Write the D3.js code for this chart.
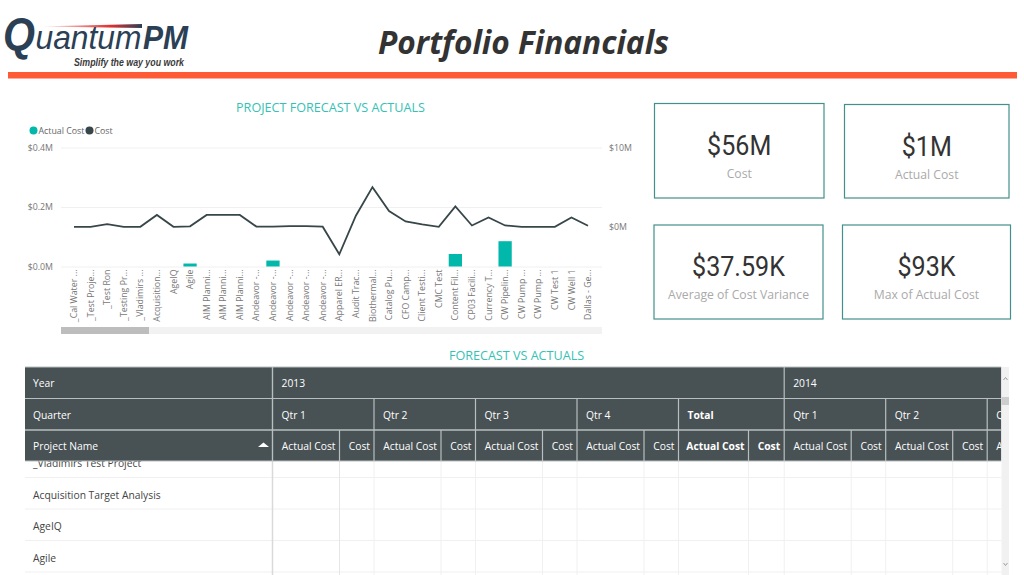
<!DOCTYPE html>
<html>
<head>
<meta charset="utf-8">
<script src="https://cdn.jsdelivr.net/npm/d3@7"></script>
<style>
	body { margin: 0; background: #fff; overflow: hidden; }
	text { font-family: 'Open Sans', 'Noto Sans', sans-serif; }
	.axis .domain { display: none; }
	.axis text { fill: #777; font-size: 8.8px; }
</style>
</head>
<body>
<svg id="page" width="1024" height="575"></svg>
<script>
const categories = ['_Cal Water ...', '_Test Proje...', '_Test Ron', '_Testing Pr...', '_Vladimirs ...', 'Acquisition...', 'AgeIQ', 'Agile', 'AIM Planni...', 'AIM Planni...', 'AIM Planni...', 'Andeavor -...', 'Andeavor -...', 'Andeavor -...', 'Andeavor -...', 'Andeavor -...', 'Apparel ER...', 'Audit Trac...', 'Biothermal...', 'Catalog Pu...', 'CFO Camp...', 'Client Testi...', 'CMC Test', 'Content Fil...', 'CP03 Facili...', 'Currency T...', 'CW Pipelin...', 'CW Pump ...', 'CW Pump ...', 'CW Test 1', 'CW Well 1', 'Dallas - Ge...']
const actualCost = [0, 0, 0, 0, 0, 0, 0, 0.01, 0, 0, 0, 0, 0.02, 0, 0, 0, 0, 0, 0, 0, 0, 0, 0, 0.042, 0, 0, 0.085, 0, 0, 0, 0, 0]
const cost = [0, 0, 0.34, 0, 0, 1.5, 0, 0.06, 1.5, 1.5, 1.5, 0.03, 0.03, 0.08, 0.08, 0.02, -3.46, 1.4, 5, 2, 0.68, 0.3, 0, 2.57, 0.17, 1.18, 0.17, 0, 0, 0, 1.18, 0.13]
const leftTicks = [0, 0.2, 0.4]
const rightTicks = [0, 10]

const cards = ['$56M', '$1M', '$37.59K', '$93K']
const cardLabels = ['Cost', 'Actual Cost', 'Average of Cost Variance', 'Max of Actual Cost']

const years = ['2013', '2014']
const quarters = ['Qtr 1', 'Qtr 2', 'Qtr 3', 'Qtr 4']
const measures = ['Actual Cost', 'Cost']
const projectNames = ['_Vladimirs Test Project', 'Acquisition Target Analysis', 'AgeIQ', 'Agile']

const teal = '#01b8aa'
const dark = '#374649'
const titleTeal = '#35c2b4'
const headerFill = '#485154'
const headerLine = '#b9bfc0'

const svg = d3.select('#page')
const defs = svg.append('defs')

// header
const swoosh = defs.append('linearGradient').attr('id', 'swoosh')
swoosh.append('stop').attr('offset', '0').attr('stop-color', '#fff')
swoosh.append('stop').attr('offset', '0.7').attr('stop-color', '#e0312f')
swoosh.append('stop').attr('offset', '1').attr('stop-color', '#2b3f55')

const logo = svg.append('g').attr('fill', '#2b3f55').style('font-style', 'italic')
logo.append('path').attr('d', 'M37 26.5 L142 24 L142 28 Z').attr('fill', 'url(#swoosh)')
logo.append('text').attr('x', 3).attr('y', 50).attr('font-size', 46).style('font-family', 'Liberation Sans').style('font-weight', 700)
	.attr('textLength', 32).attr('lengthAdjust', 'spacingAndGlyphs').text('Q')
logo.append('text').attr('x', 35.5).attr('y', 49).attr('font-size', 34).style('font-family', 'Liberation Sans').style('font-weight', 400)
	.attr('textLength', 106).attr('lengthAdjust', 'spacingAndGlyphs').text('uantum')
logo.append('text').attr('x', 143).attr('y', 49).attr('font-size', 34).style('font-family', 'Liberation Sans').style('font-weight', 700)
	.attr('textLength', 45).attr('lengthAdjust', 'spacingAndGlyphs').text('PM')
logo.append('text').attr('x', 74).attr('y', 66).attr('font-size', 11).attr('fill', '#3a3a3a').style('font-family', 'Liberation Sans').style('font-weight', 700)
	.attr('textLength', 110).attr('lengthAdjust', 'spacingAndGlyphs').text('Simplify the way you work')

svg.append('text').attr('x', 378).attr('y', 54).attr('font-size', 32).attr('fill', '#333')
	.style('font-weight', 700).style('font-style', 'italic')
	.attr('textLength', 291).attr('lengthAdjust', 'spacingAndGlyphs').text('Portfolio Financials')
svg.append('rect').attr('x', 8).attr('y', 72).attr('width', 1009).attr('height', 6.5).attr('fill', '#ff5a36')

// combo chart
const plot = { left: 61, right: 602, top: 147.5, bottom: 266.5 }

svg.append('text').attr('x', 330.5).attr('y', 112).attr('text-anchor', 'middle').attr('font-size', 12.6)
	.attr('fill', titleTeal).text('PROJECT FORECAST VS ACTUALS')

const x = d3.scaleBand().domain(d3.range(categories.length)).range([65.7, 596.3]).paddingInner(0.2).paddingOuter(0.1)
const yLeft = d3.scaleLinear().domain([0, 0.4]).range([plot.bottom, plot.top])
const yRight = d3.scaleLinear().domain([-5, 10]).range([plot.bottom, plot.top])
const xCenter = i => x(i) + x.bandwidth() / 2

const gridAxis = svg.append('g').attr('class', 'axis').attr('transform', `translate(${plot.left},0)`)
	.call(d3.axisLeft(yLeft).tickValues(leftTicks).tickFormat(d => `$${d.toFixed(1)}M`).tickSize(-(plot.right - plot.left)).tickPadding(8))
gridAxis.selectAll('line').attr('stroke', '#f0f0f0')
gridAxis.selectAll('text').attr('x', -8)

const rightAxis = svg.append('g').attr('class', 'axis').attr('transform', `translate(${plot.right},0)`)
	.call(d3.axisRight(yRight).tickValues(rightTicks).tickFormat(d => `$${d}M`).tickSize(0).tickPadding(7))

const xAxis = svg.append('g').attr('class', 'axis').attr('transform', `translate(0,${plot.bottom})`)
	.call(d3.axisBottom(x).tickFormat(i => categories[i]).tickSize(0))
xAxis.selectAll('text')
	.attr('transform', 'rotate(-90)')
	.attr('x', -3).attr('y', 0).attr('dy', '0.35em')
	.attr('text-anchor', 'end')

svg.append('g').selectAll('rect').data(actualCost).join('rect')
	.attr('x', (d, i) => x(i))
	.attr('width', x.bandwidth())
	.attr('y', d => yLeft(d))
	.attr('height', d => yLeft(0) - yLeft(d))
	.attr('fill', teal)

const line = d3.line().x((d, i) => xCenter(i)).y(d => yRight(d))
svg.append('path').datum(cost).attr('d', line).attr('fill', 'none').attr('stroke', dark).attr('stroke-width', 1.8)

const legend = svg.append('g')
measures.forEach((name, i) => {
	const lx = i === 0 ? 33.5 : 89.5
	legend.append('circle').attr('cx', lx).attr('cy', 130.5).attr('r', 4).attr('fill', i === 0 ? teal : dark)
	legend.append('text').attr('x', lx + 5).attr('y', 133.6).attr('font-size', 8.8).attr('fill', '#666').text(name)
})

svg.append('rect').attr('x', plot.left).attr('y', 327).attr('width', plot.right - plot.left).attr('height', 7).attr('fill', '#f2f2f2')
svg.append('rect').attr('x', plot.left).attr('y', 327).attr('width', 88).attr('height', 7).attr('fill', '#bdbdbd')

// cards
const cardBoxes = [[654.5, 103.5, 169.5, 94.5], [844.5, 104.5, 164.5, 93.5], [654, 225, 169, 94], [842.5, 225, 168, 94]]
const card = svg.append('g').selectAll('g').data(cards).join('g')
	.attr('transform', (d, i) => `translate(${cardBoxes[i][0]},${cardBoxes[i][1]})`)
card.append('rect')
	.attr('width', (d, i) => cardBoxes[i][2])
	.attr('height', (d, i) => cardBoxes[i][3])
	.attr('fill', '#fff').attr('stroke', '#43908a').attr('stroke-width', 1.2)
card.append('text')
	.attr('x', (d, i) => cardBoxes[i][2] / 2).attr('y', 51)
	.attr('text-anchor', 'middle').attr('font-size', 27).attr('fill', '#333')
	.style('font-family', 'Roboto').text(d => d)
	.each(function () {
		// the original numerals are narrower than Roboto
		d3.select(this).attr('textLength', this.getComputedTextLength() * 0.93).attr('lengthAdjust', 'spacingAndGlyphs')
	})
card.append('text')
	.attr('x', (d, i) => cardBoxes[i][2] / 2).attr('y', 74)
	.attr('text-anchor', 'middle').attr('font-size', 12.2).attr('fill', '#aaa')
	.text((d, i) => cardLabels[i])

// matrix table
svg.append('text').attr('x', 516.5).attr('y', 360).attr('text-anchor', 'middle').attr('font-size', 12.6)
	.attr('fill', titleTeal).text('FORECAST VS ACTUALS')

const table = { left: 25, right: 1001.5, nameRight: 272.5, rows: [367, 398.5, 430, 461], rowStep: 31.5, actualW: 67, costW: 34.5, totalActualW: 70, totalCostW: 35.7 }
const pageRight = 1024

// walk the header columns left to right
const yearCells = []
const quarterCells = []
const measureCells = []
let cursor = table.nameRight
years.forEach(year => {
	const yearStart = cursor
	const groups = year === '2013' ? quarters.concat('Total') : quarters
	groups.forEach(q => {
		const bold = q === 'Total'
		const widths = bold ? [table.totalActualW, table.totalCostW] : [table.actualW, table.costW]
		quarterCells.push({ label: q, x: cursor, w: widths[0] + widths[1], bold })
		measures.forEach((m, i) => {
			measureCells.push({ label: m, x: cursor, w: widths[i], bold })
			cursor += widths[i]
		})
	})
	yearCells.push({ label: year, x: yearStart, w: cursor - yearStart })
})
const onPage = cells => cells.filter(d => d.x < table.right)

defs.append('clipPath').attr('id', 'tableClip').append('rect')
	.attr('x', table.left).attr('y', 360).attr('width', table.right - table.left).attr('height', 215)

const tableG = svg.append('g').attr('clip-path', 'url(#tableClip)')

const rowY = i => 463.5 + i * table.rowStep
tableG.selectAll('.rowName').data(projectNames).join('text').attr('class', 'rowName')
	.attr('x', 33).attr('y', (d, i) => rowY(i)).attr('dy', '0.35em')
	.attr('font-size', 10.3).attr('fill', '#444').text(d => d)
tableG.selectAll('.rowLine').data(projectNames).join('line').attr('class', 'rowLine')
	.attr('x1', table.left).attr('x2', table.right)
	.attr('y1', (d, i) => rowY(i) + 14).attr('y2', (d, i) => rowY(i) + 14)
	.attr('stroke', '#f0f0f0')
tableG.selectAll('.colLine').data(onPage(measureCells)).join('line').attr('class', 'colLine')
	.attr('x1', d => d.x).attr('x2', d => d.x)
	.attr('y1', table.rows[3]).attr('y2', 575)
	.attr('stroke', (d, i) => i < 2 ? '#e6e6e6' : '#f0f0f0')
tableG.append('line').attr('x1', table.nameRight).attr('x2', table.nameRight)
	.attr('y1', table.rows[3]).attr('y2', 575).attr('stroke', '#d9d9d9').attr('stroke-width', 1.5)

tableG.append('rect').attr('x', table.left).attr('y', table.rows[0])
	.attr('width', table.right - table.left).attr('height', table.rows[3] - table.rows[0]).attr('fill', headerFill)

function headerRow(cells, row, textAnchor) {
	const y0 = table.rows[row]
	const y1 = table.rows[row + 1]
	const g = tableG.append('g')
	const cut = d => d.x + d.w > pageRight
	g.selectAll('line').data(cells).join('line')
		.attr('x1', d => d.x).attr('x2', d => d.x).attr('y1', y0).attr('y2', y1)
		.attr('stroke', headerLine).attr('stroke-width', 1.2)
	g.selectAll('text').data(cells).join('text')
		.attr('x', d => textAnchor === 'end' && !cut(d) ? d.x + d.w - 4 : d.x + 9)
		.attr('y', (y0 + y1) / 2 + 1).attr('dy', '0.35em')
		.attr('text-anchor', d => cut(d) ? 'start' : textAnchor).attr('font-size', 10.3).attr('fill', '#fff')
		.style('font-weight', d => d.bold ? 700 : 400)
		.text(d => cut(d) && d.label.length > 5 ? d.label.slice(0, 2) : d.label)
}
headerRow(yearCells, 0, 'start')
headerRow(onPage(quarterCells), 1, 'start')
headerRow(onPage(measureCells), 2, 'end')

const rowTitles = ['Year', 'Quarter', 'Project Name']
rowTitles.forEach((t, i) => {
	tableG.append('text').attr('x', 33).attr('y', (table.rows[i] + table.rows[i + 1]) / 2 + 1).attr('dy', '0.35em')
		.attr('font-size', 10.3).attr('fill', '#fff').text(t)
})
tableG.append('line').attr('x1', table.nameRight).attr('x2', table.nameRight).attr('y1', table.rows[0]).attr('y2', table.rows[3])
	.attr('stroke', headerLine).attr('stroke-width', 1.2)
table.rows.forEach((y, i) => {
	tableG.append('line').attr('x1', table.left).attr('x2', table.right).attr('y1', y).attr('y2', y)
		.attr('stroke', headerLine).attr('stroke-width', i === 2 ? 1.5 : 1.2)
})
tableG.append('path').attr('d', 'M258 447 L263.5 442.5 L269 447 Z').attr('fill', '#fff')

// vertical scrollbar
svg.append('rect').attr('x', table.right).attr('y', table.rows[0]).attr('width', 7.5).attr('height', 208).attr('fill', '#f1f1f1')
svg.append('rect').attr('x', table.right).attr('y', 397).attr('width', 7.5).attr('height', 8).attr('fill', '#cdcdcd')
svg.append('path').attr('d', 'M1003.5 380 L1005.5 377.5 L1007.5 380').attr('fill', 'none').attr('stroke', '#888').attr('stroke-width', 0.8)
svg.append('path').attr('d', 'M1003.5 563 L1005.5 565.5 L1007.5 563').attr('fill', 'none').attr('stroke', '#888').attr('stroke-width', 0.8)
</script>
</body>
</html>
